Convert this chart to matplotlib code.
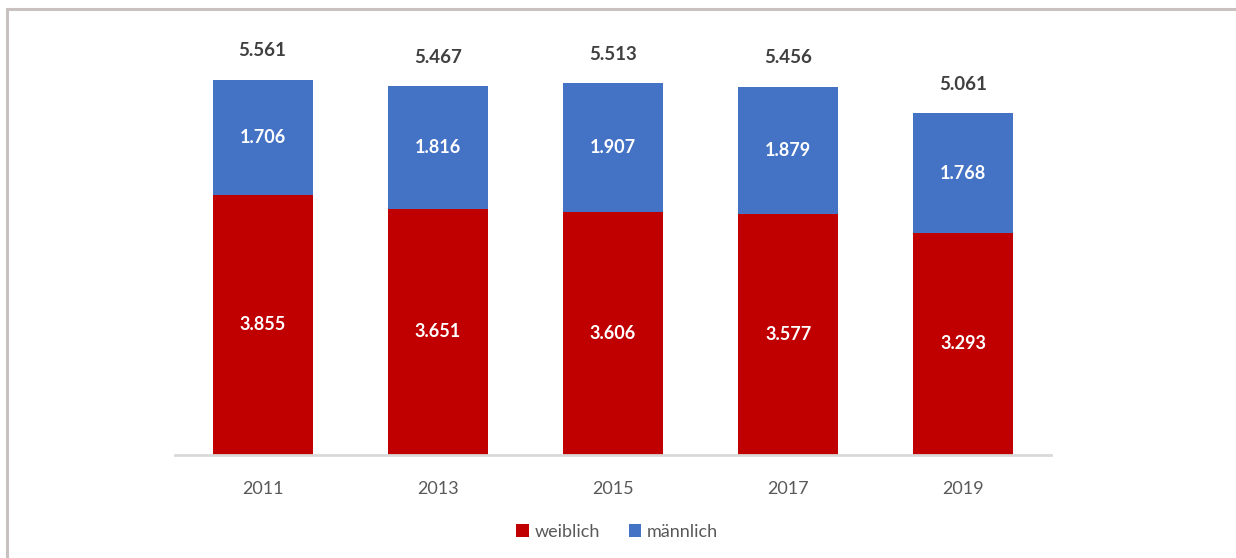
import matplotlib
matplotlib.use("Agg")
import matplotlib.pyplot as plt
from matplotlib.patches import Rectangle

years = ["2011", "2013", "2015", "2017", "2019"]
weiblich = [3855, 3651, 3606, 3577, 3293]
maennlich = [1706, 1816, 1907, 1879, 1768]
totals = [5561, 5467, 5513, 5456, 5061]

RED = "#C00000"
BLUE = "#4472C4"

def fmt(v):
    return f"{v:,}".replace(",", ".")

plt.rcParams["font.family"] = ["Lato", "DejaVu Sans"]

fig = plt.figure(figsize=(12.36, 5.58), dpi=100)
# frame around the chart area
fig.patches.append(Rectangle((7 / 1236, -0.1), 1.2, 1 - 9 / 558 + 0.1,
                             transform=fig.transFigure, fill=False,
                             edgecolor="#c9c1c0", linewidth=2.2))

ax = fig.add_axes([175 / 1236, 103 / 558, 876 / 1236, 405 / 558])
x = list(range(len(years)))
w = 0.57
ax.bar(x, weiblich, width=w, color=RED, label="weiblich")
ax.bar(x, maennlich, width=w, bottom=weiblich, color=BLUE, label="männlich")

for i in x:
    ax.text(i, weiblich[i] / 2, fmt(weiblich[i]), ha="center", va="center",
            color="white", fontsize=13, fontweight="bold")
    ax.text(i, weiblich[i] + maennlich[i] / 2, fmt(maennlich[i]), ha="center",
            va="center", color="white", fontsize=13, fontweight="bold")
    ax.text(i, totals[i] + 300, fmt(totals[i]), ha="center", va="bottom",
            color="#404040", fontsize=13.5, fontweight="bold")

ax.set_xlim(-0.5, 4.5)
ax.set_ylim(0, 6000)
ax.set_xticks(x)
ax.set_xticklabels(years, fontsize=13, color="#595959")
ax.tick_params(axis="x", length=0, pad=19)
ax.set_yticks([])
for s in ["top", "right", "left"]:
    ax.spines[s].set_visible(False)
ax.spines["bottom"].set_color("#d9d9d9")
ax.spines["bottom"].set_linewidth(2)

fig.legend(loc="center", bbox_to_anchor=(617 / 1236, 1 - 532 / 558), ncol=2,
           frameon=False, fontsize=13, labelcolor="#595959",
           handlelength=0.7, handleheight=0.7, handletextpad=0.3,
           columnspacing=1.6)

fig.savefig("out.png", dpi=100, facecolor="white")
